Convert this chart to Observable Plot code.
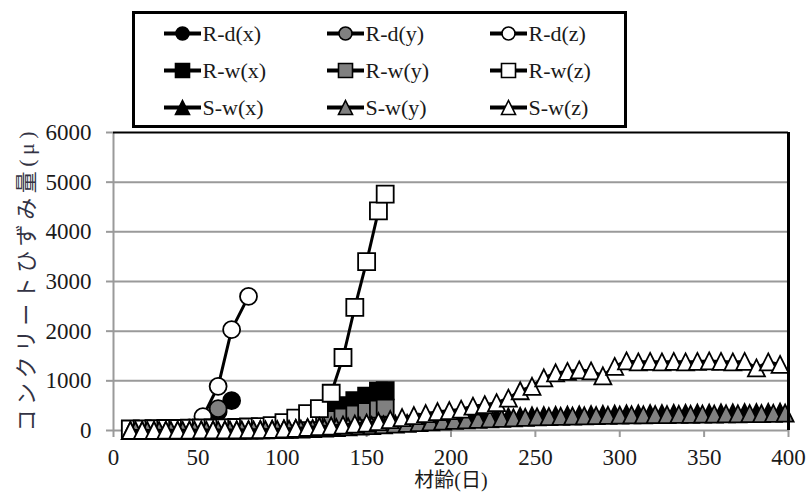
<!DOCTYPE html>
<html>
<head>
<meta charset="utf-8">
<script src="https://cdn.jsdelivr.net/npm/d3@7"></script>
<script src="https://cdn.jsdelivr.net/npm/@observablehq/plot@0.6"></script>
<style>
  body { margin: 0; background: #fff; }
  #chart { position: relative; width: 810px; height: 492px; background: #fff; }
  #legend { position: absolute; left: 133px; top: 12px; }
</style>
</head>
<body>
<div id="chart"><div id="legend"></div></div>
<script>
// Axis ticks
const xTicks = [0, 50, 100, 150, 200, 250, 300, 350, 400];
const yTicks = [0, 1000, 2000, 3000, 4000, 5000, 6000];
const gridTicks = [1000, 2000, 3000, 4000, 5000];

// R-d specimens (age in days, strain in μ)
const rdDaysX = [10, 17, 24, 31, 38, 45, 53, 62, 70];
const rdX     = [10, 10, 15, 20, 30, 50, 120, 380, 600];
const rdDaysY = [10, 17, 24, 31, 38, 45, 53, 62];
const rdY     = [5, 5, 10, 15, 20, 40, 100, 440];
const rdDaysZ = [10, 17, 24, 31, 38, 45, 53, 62, 70, 80];
const rdZ     = [0, 0, 5, 10, 20, 40, 280, 890, 2030, 2700];

// R-w specimens
const rwDays = [10, 17, 24, 31, 38, 45, 52, 59, 66, 73, 80, 87, 94, 101, 108, 115, 122, 129, 136, 143, 150, 157, 161];
const rwX    = [20, 20, 25, 25, 30, 30, 35, 35, 40, 40, 45, 50, 55, 60, 100, 150, 250, 400, 500, 600, 690, 790, 800];
const rwY    = [10, 10, 10, 15, 15, 20, 20, 20, 25, 25, 30, 30, 35, 40, 60, 90, 150, 220, 270, 330, 380, 430, 450];
const rwZ    = [30, 30, 35, 40, 40, 45, 50, 50, 55, 60, 70, 80, 100, 160, 250, 340, 440, 750, 1470, 2480, 3400, 4420, 4760];

// S-w specimens
const swDays = [10, 17, 24, 31, 38, 45, 52, 59, 66, 73, 80, 87, 94, 101, 108, 115, 122, 129, 136, 143,
                150, 157, 164, 171, 178, 185, 192, 199, 206, 213, 220, 227, 234, 241, 248, 255, 262, 269, 276, 283,
                290, 297, 304, 311, 318, 325, 332, 339, 346, 353, 360, 367, 374, 381, 388, 395];
const swX    = [0, 0, 0, 0, 5, 5, 5, 10, 10, 10, 15, 20, 25, 30, 40, 50, 60, 75, 90, 105,
                120, 135, 150, 165, 180, 195, 210, 225, 235, 245, 255, 265, 275, 285, 295, 300, 305, 310, 315, 320,
                325, 330, 335, 335, 340, 340, 345, 345, 350, 350, 355, 355, 360, 360, 365, 370];
const swDaysY = [13, 20, 27, 34, 41, 48, 55, 62, 69, 76, 83, 90, 97, 104, 111, 118, 125, 132, 139, 146,
                 153, 160, 167, 174, 181, 188, 195, 202, 209, 216, 223, 230, 237, 244, 251, 258, 265, 272, 279, 286,
                 293, 300, 307, 314, 321, 328, 335, 342, 349, 356, 363, 370, 377, 384, 391, 398];
const swY    = [0, 0, 0, 0, 0, 5, 5, 5, 10, 10, 10, 15, 20, 25, 30, 40, 50, 60, 75, 90,
                100, 115, 130, 145, 160, 175, 190, 205, 215, 225, 235, 245, 255, 265, 275, 280, 285, 290, 295, 300,
                305, 310, 315, 315, 320, 320, 325, 325, 330, 330, 335, 335, 340, 340, 345, 350];
const swZ    = [0, 0, 0, 5, 5, 5, 10, 10, 10, 10, 15, 15, 20, 30, 40, 60, 80, 90, 110, 130,
                150, 180, 220, 260, 300, 340, 380, 400, 430, 490, 520, 560, 650, 800, 890, 1060, 1160, 1190, 1220, 1200,
                1100, 1290, 1400, 1380, 1390, 1380, 1390, 1380, 1390, 1400, 1390, 1380, 1390, 1260, 1380, 1330];

// Marker shapes: square, triangle and circle sized to a half-extent of r
const symSquare = { draw(ctx, size) { const h = Math.sqrt(size / Math.PI); ctx.rect(-h, -h, 2 * h, 2 * h); } };
const symTriangle = { draw(ctx, size) { const h = Math.sqrt(size / Math.PI); ctx.moveTo(0, -h); ctx.lineTo(h, h); ctx.lineTo(-h, h); ctx.closePath(); } };
const symCircle = { draw(ctx, size) { const h = Math.sqrt(size / Math.PI); ctx.moveTo(h, 0); ctx.arc(0, 0, h, 0, 2 * Math.PI); } };
const symStub = { draw(ctx, size) { const h = Math.sqrt(size / Math.PI); ctx.moveTo(-h, 0); ctx.lineTo(h, 0); } };

const GRAY = "#808080";
const fills = { x: "black", y: GRAY, z: "white" };

const series = [
  { group: "R-d", comp: "x", days: rdDaysX, values: rdX, symbol: symCircle, r: 8.5, lr: 6.5 },
  { group: "R-d", comp: "y", days: rdDaysY, values: rdY, symbol: symCircle, r: 8.5, lr: 6.5 },
  { group: "R-d", comp: "z", days: rdDaysZ, values: rdZ, symbol: symCircle, r: 8.5, lr: 6.5 },
  { group: "R-w", comp: "x", days: rwDays, values: rwX, symbol: symSquare, r: 8.5, lr: 7 },
  { group: "R-w", comp: "y", days: rwDays, values: rwY, symbol: symSquare, r: 8.5, lr: 7 },
  { group: "R-w", comp: "z", days: rwDays, values: rwZ, symbol: symSquare, r: 8.5, lr: 7 },
  { group: "S-w", comp: "x", days: swDays, values: swX, symbol: symTriangle, r: 8.5, lr: 7 },
  { group: "S-w", comp: "y", days: swDaysY, values: swY, symbol: symTriangle, r: 8.5, lr: 7 },
  { group: "S-w", comp: "z", days: swDays, values: swZ, symbol: symTriangle, r: 8.5, lr: 7 }
];
series.forEach(s => {
  s.name = `${s.group}(${s.comp})`;
  s.fill = fills[s.comp];
  s.rows = s.days.map((d, i) => ({ day: d, value: s.values[i] }));
});

const serif = "'Liberation Serif', 'Times New Roman', 'Noto Sans CJK JP', serif";
const yTitle = "コンクリートひずみ量(μ)";
const xTitle = "材齢(日)";

const dataMarks = series.flatMap(s => [
  Plot.line(s.rows, { x: "day", y: "value", stroke: "black", strokeWidth: 3 }),
  Plot.dot(s.rows, { x: "day", y: "value", symbol: s.symbol, r: s.r, fill: s.fill, stroke: "black", strokeWidth: 1.8 })
]);

const xMax = xTicks[xTicks.length - 1];
const yMax = yTicks[yTicks.length - 1];

const chart = Plot.plot({
  width: 810,
  height: 492,
  marginLeft: 113,
  marginRight: 22,
  marginTop: 132,
  marginBottom: 62,
  style: { background: "white", fontFamily: serif, overflow: "visible" },
  x: { domain: [0, xMax] },
  y: { domain: [0, yMax] },
  marks: [
    Plot.gridY(gridTicks, { stroke: "#9a9a9a", strokeWidth: 2, strokeOpacity: 1 }),
    Plot.ruleX([0], { stroke: "#9a9a9a", strokeWidth: 2 }),
    Plot.ruleY([0], { stroke: "#9a9a9a", strokeWidth: 2 }),
    Plot.ruleY([yMax], { stroke: "black", strokeWidth: 2 }),
    Plot.axisY({ ticks: yTicks, tickSize: 7, text: null, stroke: "#9a9a9a", strokeWidth: 2, label: null }),
    Plot.axisY({ ticks: yTicks, tickSize: 0, tickPadding: 22, fontSize: 23, fill: "#1a1a1a", label: null, tickFormat: d => String(d) }),
    Plot.axisX({ ticks: xTicks, tickSize: 7, text: null, stroke: "#9a9a9a", strokeWidth: 2, label: null }),
    Plot.axisX({ ticks: xTicks, tickSize: 0, tickPadding: 18, fontSize: 23, fill: "#1a1a1a", label: null, tickFormat: d => String(d) }),
    ...dataMarks,
    Plot.ruleX([xMax], { stroke: "black", strokeWidth: 3 }),
    Plot.text([xTitle], { frameAnchor: "bottom", dy: 50, fontSize: 20, fill: "#1a1a1a", lineAnchor: "middle", textAnchor: "middle" }),
    Plot.text([yTitle], { frameAnchor: "left", dx: -87, rotate: -90, fontSize: 22, fill: "#333344", lineAnchor: "middle", textAnchor: "middle" })
  ]
});
// Stretch the vertical title along the full height of the plot frame
d3.select(chart).selectAll("text").filter(function () { return this.textContent === yTitle; })
  .attr("textLength", 300).attr("lengthAdjust", "spacing");
document.getElementById("chart").prepend(chart);

// Legend: three rows (specimen groups) by three columns (strain components)
const legendRows = series.map(s => ({ group: s.group, comp: s.comp, name: s.name, fill: s.fill }));
const groups = ["R-d", "R-w", "S-w"];
const comps = ["x", "y", "z"];
const legend = Plot.plot({
  width: 492,
  height: 114,
  margin: 0,
  style: { background: "white", fontFamily: serif, overflow: "visible" },
  x: { type: "point", domain: comps, range: [49, 375], padding: 0, axis: null },
  y: { type: "point", domain: groups, range: [21, 95], padding: 0, axis: null },
  color: { type: "identity" },
  marks: [
    Plot.frame({ stroke: "black", strokeWidth: 3 }),
    Plot.dot(legendRows, { x: "comp", y: "group", symbol: symStub, r: 18.5, stroke: "black", strokeWidth: 4 }),
    ...groups.map(g => {
      const s = series.find(d => d.group === g);
      return Plot.dot(legendRows.filter(d => d.group === g), { x: "comp", y: "group", symbol: s.symbol, r: s.lr, fill: "fill", stroke: "black", strokeWidth: 1.6 });
    }),
    Plot.text(legendRows, { x: "comp", y: "group", text: "name", dx: 20, textAnchor: "start", fontSize: 22, fill: "#1a1a1a" })
  ]
});
document.getElementById("legend").append(legend);
</script>
</body>
</html>
